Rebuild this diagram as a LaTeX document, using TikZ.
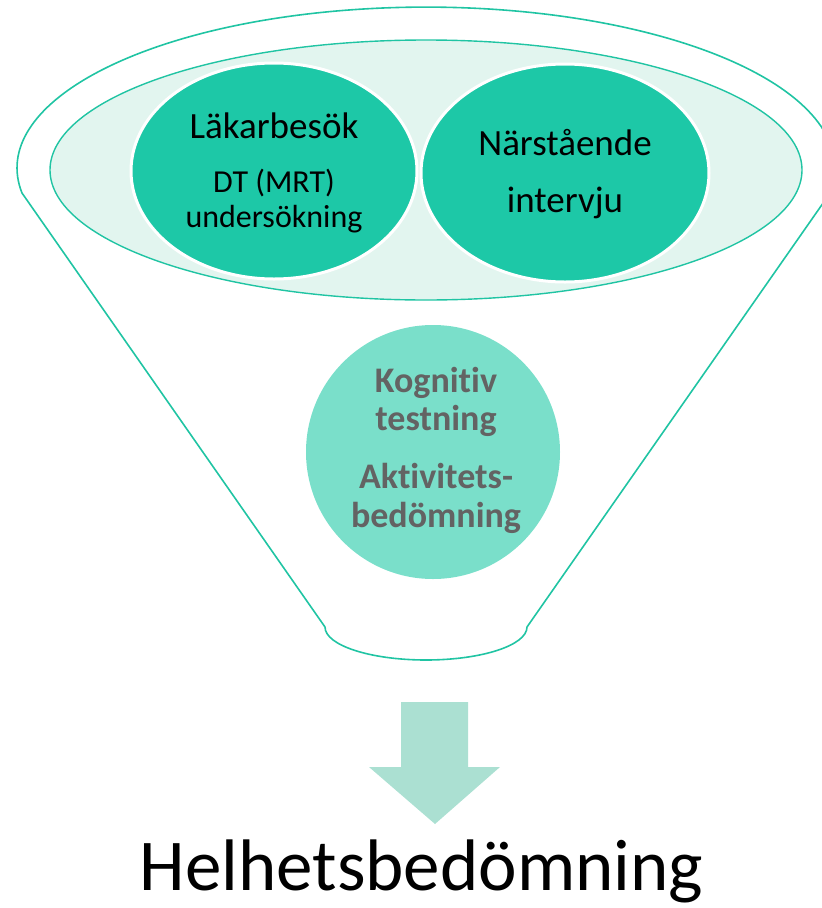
\documentclass[tikz,border=0pt]{standalone}
\usepackage{fontspec}
\setmainfont{Carlito}[Ligatures=NoCommon]
\usetikzlibrary{shapes.geometric}
\definecolor{tealdark}{RGB}{29,200,167}
\definecolor{tealline}{RGB}{32,196,163}
\definecolor{tealpale}{RGB}{226,245,239}
\definecolor{tealmid}{RGB}{122,223,202}
\definecolor{tealarrow}{RGB}{171,224,210}
\definecolor{textgray}{RGB}{99,99,99}
\tikzset{
  funnelline/.style={draw=tealline, line width=1.6pt, line join=round},
  topdisc/.style={ellipse, fill=tealdark, draw=white, line width=3pt, inner sep=0pt},
  plainlabel/.style={anchor=base, inner sep=0pt, text=black},
  boldlabel/.style={anchor=base, inner sep=0pt, text=textgray, font=\bfseries\fontsize{36}{40}\selectfont},
}
\begin{document}
\begin{tikzpicture}[x=1pt, y=-1pt]
\useasboundingbox (0,0) rectangle (822,908);

% funnel outline: rim over the top, straight sides, rounded spout
\draw[funnelline] (22,193) arc[start angle=171.1, end angle=368.9, x radius=409, y radius=161]
  -- (527,627) arc[start angle=0, end angle=180, x radius=101, y radius=33] -- cycle;

% pale opening of the funnel
\node[ellipse, fill=tealpale, draw=tealline, line width=1.4pt, minimum width=752pt, minimum height=260pt, inner sep=0pt] (opening) at (426,170) {};

% the two discs in the opening
\node[topdisc, minimum width=286pt, minimum height=216pt] (visit) at (274,171) {};
\node[topdisc, minimum width=288pt, minimum height=218pt] (relative) at (565,173) {};

\node[plainlabel, font=\fontsize{37}{40}\selectfont] (visitA) at (274,138) {Läkarbesök};
\node[plainlabel, font=\fontsize{32}{34}\selectfont] (visitB) at (274,192) {DT (MRT)};
\node[plainlabel, font=\fontsize{32}{34}\selectfont] (visitC) at (274,227) {undersökning};

\node[plainlabel, font=\fontsize{37}{40}\selectfont] (relA) at (565,155) {Närstående};
\node[plainlabel, font=\fontsize{37}{40}\selectfont] (relB) at (565,212) {intervju};

% disc inside the funnel
\node[circle, fill=tealmid, minimum size=254pt, inner sep=0pt] (tests) at (433,452) {};
\node[boldlabel] (testA) at (436,392) {Kognitiv};
\node[boldlabel] (testB) at (436,430) {testning};
\node[boldlabel] (testC) at (436,488) {Aktivitets-};
\node[boldlabel] (testD) at (436,527) {bedömning};

% block arrow below the spout
\fill[tealarrow] (401,702) -- (468,702) -- (468,767) -- (500,767) -- (435,824)
  -- (369,767) -- (401,767) -- cycle;

% result
\node[plainlabel, font=\fontsize{73}{76}\selectfont] (result) at (421.5,890) {Helhetsbedömning};
\end{tikzpicture}
\end{document}
